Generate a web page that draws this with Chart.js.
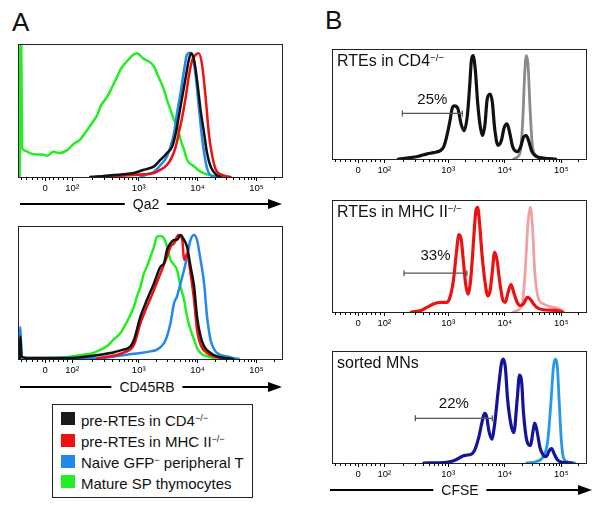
<!DOCTYPE html>
<html><head><meta charset="utf-8">
<script src="https://cdn.jsdelivr.net/npm/chart.js@4"></script>
<style>
html,body{margin:0;padding:0;background:#fff;}
body{width:604px;height:509px;position:relative;overflow:hidden;font-family:"Liberation Sans",Arial,sans-serif;color:#111;}
canvas{position:absolute;}
.t{position:absolute;line-height:1;white-space:nowrap;}
.sup{font-size:0.6em;position:relative;top:-0.55em;}
.axis{position:absolute;height:0;}
.axis .ln{position:absolute;left:0;right:12px;top:-0.75px;height:1.6px;background:#000;}
.axis .hd{position:absolute;right:0;top:-5.5px;width:0;height:0;border-left:14px solid #000;border-top:5.5px solid transparent;border-bottom:5.5px solid transparent;}
.axis .lb{position:absolute;top:-7px;transform:translateX(-50%);background:#fff;padding:0 8px;font-size:14px;line-height:1;}
.leg{position:absolute;left:52px;top:404px;width:201px;height:94px;box-sizing:border-box;border:1px solid #222;}
.sw{position:absolute;left:61px;width:14px;height:13px;}
</style></head><body>
<div class="t" style="left:12px;top:9px;font-size:26px;">A</div>
<div class="t" style="left:325px;top:7px;font-size:26px;">B</div>

<canvas id="a1" width="267" height="154" style="left:17px;top:43px;"></canvas>
<canvas id="a2" width="267" height="154" style="left:17px;top:225px;"></canvas>
<canvas id="b1" width="265" height="135" style="left:327px;top:44px;"></canvas>
<canvas id="b2" width="265" height="137" style="left:327px;top:195px;"></canvas>
<canvas id="b3" width="265" height="137" style="left:327px;top:346px;"></canvas>

<div class="axis" style="left:20px;top:204px;width:262px;"><div class="ln"></div><div class="hd"></div><div class="lb" style="left:126px;">Qa2</div></div>
<div class="axis" style="left:20px;top:387px;width:262px;"><div class="ln"></div><div class="hd"></div><div class="lb" style="left:127px;">CD45RB</div></div>
<div class="axis" style="left:330px;top:490px;width:262px;"><div class="ln"></div><div class="hd"></div><div class="lb" style="left:130px;">CFSE</div></div>

<div class="t" style="left:337px;top:53px;font-size:16px;">RTEs in CD4<span class="sup">−/−</span></div>
<div class="t" style="left:337px;top:204px;font-size:16px;">RTEs in MHC II<span class="sup">−/−</span></div>
<div class="t" style="left:337px;top:355px;font-size:16px;">sorted MNs</div>

<div class="leg"></div>
<div class="sw" style="top:411.5px;background:#1a1a1a;"></div>
<div class="sw" style="top:433.5px;background:#ee1111;"></div>
<div class="sw" style="top:455px;background:#2288ee;"></div>
<div class="sw" style="top:475px;background:#22ee22;"></div>
<div class="t" style="left:81px;top:413px;font-size:15px;">pre-RTEs in CD4<span class="sup">−/−</span></div>
<div class="t" style="left:81px;top:434px;font-size:15px;">pre-RTEs in MHC II<span class="sup">−/−</span></div>
<div class="t" style="left:81px;top:455px;font-size:15px;">Naive GFP<span class="sup">−</span> peripheral T</div>
<div class="t" style="left:81px;top:475.5px;font-size:15px;">Mature SP thymocytes</div>

<script>
// ---- axis (display units of the biexponential axis) ----
const X_MIN = 0.95, X_MAX = 5.45;
const TICK_VALUES = [1.41, 1.87, 3, 4, 5];
const TICK_LABELS = ['0', '10²', '10³', '10⁴', '10⁵'];
const MINOR_TICKS = [1.0,1.09,1.18,1.27,1.35,1.47,1.55,1.63,1.71,1.79,
  2.21,2.41,2.55,2.66,2.75,2.82,2.89,2.95,
  3.30,3.48,3.60,3.70,3.78,3.85,3.90,3.95,
  4.30,4.48,4.60,4.70,4.78,4.85,4.90,4.95,5.30];

// ---- A, top: Qa2 (% of max) ----
const A1_BLACK = [[2.18,0],[2.74,2],[2.92,3],[3.09,5.5],[3.14,6],[3.26,8],[3.37,13],[3.48,18],[3.57,23],[3.63,33],[3.68,45.5],[3.74,60.5],[3.80,75.5],[3.85,88],[3.89,93],[3.94,88],[3.99,73],[4.05,50.5],[4.11,33],[4.16,18],[4.22,8],[4.31,2],[4.39,0]];
const A1_RED = [[2.18,0],[3.09,2],[3.26,3],[3.37,5.5],[3.48,9],[3.57,15.5],[3.63,23],[3.68,33],[3.74,45.5],[3.80,60.5],[3.85,75.5],[3.91,88],[3.97,92],[4.02,93],[4.08,83],[4.14,58],[4.19,33],[4.25,15.5],[4.31,5.5],[4.39,2],[4.56,0]];
const A1_BLUE = [[3.03,0],[3.14,2],[3.26,4],[3.37,9],[3.48,15.5],[3.54,23],[3.60,33],[3.65,48],[3.71,63],[3.77,80.5],[3.82,92],[3.87,93.5],[3.91,92],[3.97,75],[4.02,53],[4.08,28],[4.14,10.5],[4.19,3],[4.28,0.5],[4.4,0]];
const A1_GREEN = [[0.98,0],[0.99,99],[1.005,99],[1.02,22],[1.06,20],[1.15,18],[1.25,17],[1.35,17],[1.45,16],[1.55,19],[1.65,18],[1.78,20],[1.9,25],[2.0,28],[2.12,35],[2.2,40],[2.3,47],[2.35,53],[2.46,60],[2.52,65],[2.63,75],[2.69,81],[2.8,87],[2.91,92],[2.97,93],[3.08,89],[3.2,86],[3.26,83],[3.31,78],[3.37,72],[3.43,65.5],[3.48,58],[3.54,50.5],[3.6,43],[3.65,39],[3.71,28],[3.77,20.5],[3.82,13],[3.94,8],[4.05,4],[4.16,2],[4.3,0.5],[4.5,0]];

// ---- A, bottom: CD45RB (% of max) ----
const A2_BLACK = [[0.98,0],[0.99,17],[1.01,2],[1.1,0.75],[1.78,0.75],[2.35,3.25],[2.52,4.5],[2.63,5.75],[2.74,7],[2.86,9.5],[2.92,14.5],[3.03,32],[3.14,44.5],[3.26,57],[3.37,69.5],[3.43,72],[3.48,82],[3.54,87],[3.60,89.5],[3.65,89.5],[3.71,93.25],[3.77,89.5],[3.82,84.5],[3.88,69.5],[3.94,54.5],[3.99,32],[4.05,17],[4.11,9.5],[4.22,4.5],[4.33,2],[4.5,0.5],[4.6,0]];
const A2_RED = [[2.3,0.5],[2.75,5],[2.92,10.75],[3.03,27],[3.14,39.5],[3.26,52],[3.37,64.5],[3.48,77],[3.54,84.5],[3.60,87],[3.65,92],[3.68,93.25],[3.74,89.5],[3.77,74.5],[3.80,77],[3.82,79.5],[3.88,64.5],[3.94,44.5],[3.99,22],[4.05,10.75],[4.16,4.5],[4.28,2],[4.45,0.5],[4.55,0]];
const A2_BLUE = [[0.98,0],[0.99,24],[1.01,2],[1.1,0.75],[2.35,0.75],[2.8,3.25],[3.03,4.5],[3.2,5.75],[3.31,7],[3.43,12],[3.48,17],[3.54,27],[3.60,42],[3.65,47],[3.71,57],[3.77,67],[3.82,77],[3.88,89.5],[3.94,93.25],[3.99,89.5],[4.05,74.5],[4.11,57],[4.16,32],[4.22,14.5],[4.33,4.5],[4.5,2],[4.62,0.5],[4.7,0]];
const A2_GREEN = [[0.98,0],[0.99,19.5],[1.01,1],[1.2,0.5],[1.5,0.75],[1.78,1.25],[2.06,3.25],[2.23,4.5],[2.35,7],[2.46,9.5],[2.57,14.5],[2.69,19.5],[2.80,28],[2.92,39.5],[2.97,47],[3.03,54.5],[3.09,64.5],[3.14,69.5],[3.20,77],[3.26,84.5],[3.31,92],[3.37,92.5],[3.43,90.75],[3.48,84.5],[3.54,74.5],[3.60,70.75],[3.65,67],[3.71,54.5],[3.77,44.5],[3.82,32],[3.88,22],[3.94,14.5],[3.99,8.25],[4.05,4.5],[4.16,2],[4.28,0.75],[4.4,0]];

// ---- B: CFSE dilution (% of max) ----
const B1_DIVIDED = [[2.12,0],[2.46,2.3],[2.63,4.7],[2.74,5.8],[2.86,7.6],[2.92,11.1],[2.97,19.8],[3.03,34.4],[3.07,46.1],[3.11,48.4],[3.17,46.1],[3.23,31.5],[3.28,25.7],[3.34,40.2],[3.38,66.5],[3.41,89.8],[3.44,94.2],[3.48,81],[3.52,51.9],[3.57,28.6],[3.61,21.3],[3.65,31.5],[3.69,54.8],[3.74,59.2],[3.78,51.9],[3.82,28.6],[3.88,12.5],[3.94,16.9],[3.99,28.6],[4.04,32.1],[4.08,25.7],[4.14,11.1],[4.22,6.7],[4.28,11.1],[4.33,19.8],[4.38,21.3],[4.42,16.9],[4.48,6.7],[4.56,2.3],[4.68,0.9],[4.9,0]];
const B1_UNDIVIDED = [[4.16,0],[4.22,1.7],[4.28,8.2],[4.32,37.3],[4.35,75.2],[4.38,94.2],[4.41,86.9],[4.45,43.1],[4.49,11.1],[4.56,2.9],[4.68,0.9],[4.85,0]];
const B2_DIVIDED = [[2.35,0],[2.52,1.4],[2.63,4.3],[2.74,7.2],[2.86,8.6],[2.97,8.6],[3.03,13],[3.09,27.4],[3.14,50.4],[3.19,69.2],[3.23,64.8],[3.27,44.7],[3.31,24.5],[3.35,15.9],[3.40,30.3],[3.45,64.8],[3.49,90.8],[3.52,93.7],[3.55,82.1],[3.60,50.4],[3.65,27.4],[3.70,14.4],[3.74,18.7],[3.78,36],[3.82,53.3],[3.86,47.6],[3.91,27.4],[3.97,10.1],[4.01,8.6],[4.05,15.9],[4.11,24.5],[4.16,17.3],[4.22,8.6],[4.28,5.8],[4.33,7.2],[4.40,13],[4.45,11.5],[4.51,7.2],[4.56,4.3],[4.68,2],[4.9,1.4],[5.02,0]];
const B2_UNDIVIDED = [[4.15,0],[4.22,1.4],[4.31,7.2],[4.36,36],[4.41,79.3],[4.45,93.7],[4.49,76.4],[4.53,36],[4.59,13],[4.68,7.2],[4.85,4.3],[4.96,2.9],[5.04,0]];
const B3_DIVIDED = [[2.57,0],[2.97,0.6],[3.14,2.9],[3.26,6.3],[3.34,7.1],[3.43,8.6],[3.48,12.9],[3.54,22.9],[3.60,37.1],[3.64,44.3],[3.68,41.4],[3.72,28.6],[3.77,21.4],[3.82,34.3],[3.88,62.9],[3.94,88.6],[3.97,92.9],[4.01,85.7],[4.05,57.1],[4.11,34.3],[4.16,27.1],[4.22,57.1],[4.26,78.6],[4.30,71.4],[4.33,45.7],[4.39,20],[4.45,15.7],[4.51,31.4],[4.53,35.7],[4.57,28.6],[4.62,14.3],[4.68,7.1],[4.73,5.7],[4.79,11.4],[4.83,12.9],[4.87,8.6],[4.93,2.9],[5.02,0.6],[5.19,0]];
const B3_UNDIVIDED = [[4.39,0],[4.56,1.4],[4.68,5.7],[4.76,20],[4.82,57.1],[4.86,85.7],[4.89,92.9],[4.93,85.7],[4.96,57.1],[5.00,20],[5.04,4.3],[5.13,0.6],[5.24,0]];

// gates: [start, end], height, label
const B1_GATE = [2.19, 3.25], B1_GATE_Y = 41.5, B1_GATE_LABEL = '25%';
const B2_GATE = [2.22, 3.33], B2_GATE_Y = 34.7, B2_GATE_LABEL = '33%';
const B3_GATE = [2.42, 3.78], B3_GATE_Y = 40, B3_GATE_LABEL = '22%';

const AXIS_H = 20;
const FONT = '"Liberation Sans", Arial, sans-serif';

const pts = arr => arr.map(([x, y]) => ({x, y}));
const series = (arr, color, width) => ({
  data: pts(arr), borderColor: color, borderWidth: width, pointRadius: 0,
  cubicInterpolationMode: 'monotone', fill: false
});
const gate = (g, y, label, off) => ({
  data: [{x: g[0], y}, {x: g[1], y}], borderColor: '#555', borderWidth: 1.2,
  pointStyle: 'line', pointRotation: 90, pointRadius: 3, pointBorderWidth: 1.2,
  pointBorderColor: '#555', tension: 0, gateLabel: label, gateOffset: off
});

const framePlugin = {
  id: 'frame',
  afterDraw(chart) {
    const {ctx, chartArea: a, scales: {x}} = chart;
    ctx.save();
    ctx.strokeStyle = '#222'; ctx.lineWidth = 1;
    const l = Math.round(a.left) + 0.5, t = Math.round(a.top) + 0.5;
    const r = Math.round(a.right) - 0.5, b = Math.round(a.bottom) + 0.5;
    ctx.strokeRect(l, t, r - l, b - t);
    ctx.beginPath();
    MINOR_TICKS.forEach(v => {
      const px = Math.round(x.getPixelForValue(v)) + 0.5;
      ctx.moveTo(px, b); ctx.lineTo(px, b + 2.5);
    });
    ctx.strokeStyle = '#000';
    ctx.stroke();
    chart.data.datasets.forEach((ds, i) => {
      if (!ds.gateLabel) return;
      const m = chart.getDatasetMeta(i).data;
      ctx.font = '15px ' + FONT; ctx.fillStyle = '#111';
      ctx.textAlign = 'center'; ctx.textBaseline = 'alphabetic';
      ctx.fillText(ds.gateLabel, (m[0].x + m[1].x) / 2, m[0].y - ds.gateOffset);
    });
    ctx.restore();
  }
};

function panel(id, datasets) {
  new Chart(document.getElementById(id), {
    type: 'line',
    data: {datasets},
    options: {
      responsive: false, animation: false, devicePixelRatio: 1,
      layout: {padding: {left: 1, right: 1, top: 1, bottom: 0}},
      plugins: {legend: {display: false}, tooltip: {enabled: false}},
      elements: {line: {borderJoinStyle: 'round', borderCapStyle: 'round'}},
      scales: {
        x: {
          type: 'linear', min: X_MIN, max: X_MAX,
          afterBuildTicks: s => { s.ticks = TICK_VALUES.map(v => ({value: v})); },
          afterFit: s => { s.height = AXIS_H; },
          ticks: {autoSkip: false, maxRotation: 0, padding: 2, color: '#000',
            font: {family: FONT, size: 9.5},
            callback: v => { const i = TICK_VALUES.indexOf(v); return i >= 0 ? TICK_LABELS[i] : ''; }},
          grid: {drawOnChartArea: false, drawTicks: true, tickLength: 4, color: '#000', lineWidth: 1},
          border: {display: false}
        },
        y: {display: false, min: 0, max: 100}
      }
    },
    plugins: [framePlugin]
  });
}

panel('a1', [series(A1_BLACK, '#111111', 2.5), series(A1_RED, '#ee1111', 2.5), series(A1_BLUE, '#2288ee', 2.5), series(A1_GREEN, '#22ee22', 2.5)]);
panel('a2', [series(A2_BLACK, '#111111', 2.5), series(A2_RED, '#ee1111', 2.5), series(A2_BLUE, '#2288ee', 2.5), series(A2_GREEN, '#22ee22', 2.5)]);
panel('b1', [gate(B1_GATE, B1_GATE_Y, B1_GATE_LABEL, 9), series(B1_DIVIDED, '#111111', 3.2), series(B1_UNDIVIDED, '#8a8a8a', 2.8)]);
panel('b2', [gate(B2_GATE, B2_GATE_Y, B2_GATE_LABEL, 13), series(B2_DIVIDED, '#ee1111', 3.2), series(B2_UNDIVIDED, '#f4a0a0', 2.8)]);
panel('b3', [gate(B3_GATE, B3_GATE_Y, B3_GATE_LABEL, 10), series(B3_DIVIDED, '#14149a', 3.2), series(B3_UNDIVIDED, '#2299ee', 2.8)]);
</script>
</body></html>
